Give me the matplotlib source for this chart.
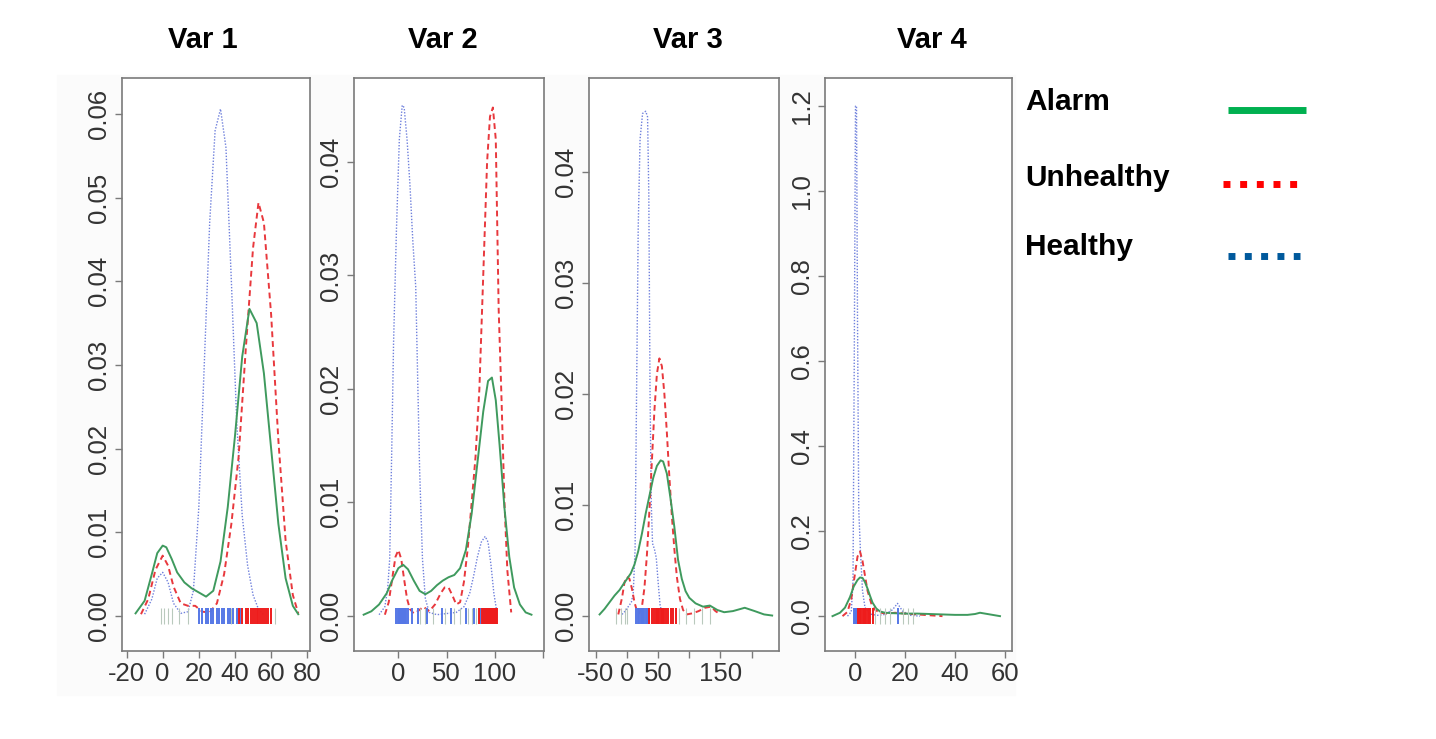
import matplotlib
matplotlib.use("Agg")
import matplotlib.pyplot as plt
from matplotlib.lines import Line2D
from matplotlib.patches import Rectangle

plt.rcParams['font.family'] = ['Liberation Sans', 'DejaVu Sans']

# ---- Var 1 density curves ----
v1_alarm_x = [-15, -10, -6, -3, 0, 2, 5, 8, 12, 16, 20, 24, 28, 32, 36, 40, 44, 48, 52, 56, 60, 64, 68, 72, 75]
v1_alarm_y = [0.0003, 0.0018, 0.0050, 0.0075, 0.0084, 0.0082, 0.0068, 0.0052, 0.0040, 0.0033, 0.0028, 0.0023,
              0.0030, 0.0065, 0.0130, 0.0215, 0.0310, 0.0367, 0.0350, 0.0290, 0.0200, 0.0110, 0.0045, 0.0012, 0.0002]
v1_unh_x = [-12, -8, -4, 0, 3, 6, 10, 14, 18, 22, 26, 30, 34, 38, 42, 46, 50, 53, 56, 60, 64, 68, 72, 75]
v1_unh_y = [0.0002, 0.0020, 0.0055, 0.0072, 0.0060, 0.0035, 0.0015, 0.0012, 0.0012, 0.0005, 0.0004, 0.0015,
            0.0050, 0.0110, 0.0190, 0.0320, 0.0440, 0.0494, 0.0470, 0.0360, 0.0210, 0.0090, 0.0025, 0.0003]
v1_hea_x = [-10, -6, -3, 0, 3, 6, 10, 14, 17, 20, 23, 26, 29, 32, 35, 38, 41, 44, 47, 50, 53, 56]
v1_hea_y = [0.0002, 0.0020, 0.0045, 0.0052, 0.0040, 0.0015, 0.0003, 0.0005, 0.0030, 0.0130, 0.0300, 0.0470,
            0.0580, 0.0606, 0.0560, 0.0400, 0.0230, 0.0120, 0.0060, 0.0025, 0.0008, 0.0001]
v1_rug_hea = [20, 22, 24, 25, 27, 28, 30, 31, 33, 34, 36, 37, 39, 41, 43]
v1_rug_unh = [42, 44, 46, 47, 49, 50, 51, 52, 53, 54, 55, 56, 57, 58, 60]
v1_rug_alarm = [-1, 1, 3, 5, 9, 14, 38, 62]

# ---- Var 2 ----
v2_alarm_x = [-36, -28, -20, -12, -6, 0, 5, 10, 16, 22, 28, 34, 40, 46, 52, 58, 64, 70, 76, 82, 88, 93, 97,
              101, 105, 110, 115, 120, 126, 132, 138]
v2_alarm_y = [0.0001, 0.0004, 0.0010, 0.0020, 0.0032, 0.0042, 0.0045, 0.0041, 0.0031, 0.0022, 0.0019, 0.0022,
              0.0027, 0.0031, 0.0034, 0.0036, 0.0042, 0.0058, 0.0090, 0.0135, 0.0180, 0.0207, 0.0210, 0.0190,
              0.0150, 0.0095, 0.0052, 0.0025, 0.0010, 0.0003, 0.0001]
v2_unh_x = [-14, -10, -6, -3, 0, 3, 6, 9, 12, 16, 20, 26, 32, 38, 44, 48, 52, 56, 60, 64, 68, 72, 76, 80, 84,
            88, 92, 95, 98, 101, 104, 107, 110, 113, 117]
v2_unh_y = [0.0001, 0.0012, 0.0035, 0.0052, 0.0058, 0.0050, 0.0032, 0.0015, 0.0006, 0.0002, 0.0004, 0.0008,
            0.0004, 0.0010, 0.0020, 0.0025, 0.0025, 0.0018, 0.0010, 0.0012, 0.0030, 0.0060, 0.0100, 0.0140,
            0.0200, 0.0300, 0.0400, 0.0440, 0.0448, 0.0420, 0.0270, 0.0190, 0.0100, 0.0040, 0.0003]
v2_hea_x = [-20, -14, -11, -9, -7, -5, -2, 1, 4, 6, 9, 12, 15, 18, 20, 22, 25, 28, 32, 40, 50, 60, 68, 74,
            78, 82, 86, 90, 93, 96, 99, 102]
v2_hea_y = [0.0001, 0.0008, 0.0025, 0.0050, 0.0140, 0.0240, 0.0340, 0.0420, 0.0450, 0.0448, 0.0420, 0.0380,
            0.0330, 0.0290, 0.0210, 0.0130, 0.0050, 0.0015, 0.0003, 0.0001, 0.0002, 0.0003, 0.0008, 0.0020,
            0.0035, 0.0052, 0.0065, 0.0070, 0.0065, 0.0045, 0.0020, 0.0004]
v2_rug_hea = [-2, 0, 1, 2, 3, 4, 5, 6, 7, 8, 10, 14, 20, 30, 45, 55, 70, 78, 85, 88, 90]
v2_rug_unh = [84, 87, 89, 91, 92, 93, 94, 95, 96, 97, 98, 99, 100, 101, 102]
v2_rug_alarm = [22, 28, 36, 48, 58, 64, 72, 76, 80]

# ---- Var 3 ----
v3_alarm_x = [-44, -36, -28, -20, -12, -5, 0, 6, 12, 18, 24, 30, 36, 42, 48, 54, 58, 64, 70, 76, 82, 88, 94,
              100, 110, 122, 133, 145, 156, 170, 189, 205, 220, 233]
v3_alarm_y = [0.0001, 0.0006, 0.0012, 0.0018, 0.0023, 0.0029, 0.0033, 0.0038, 0.0046, 0.0058, 0.0074, 0.0092,
              0.0108, 0.0124, 0.0135, 0.0140, 0.0139, 0.0128, 0.0105, 0.0080, 0.0050, 0.0033, 0.0022, 0.0016,
              0.0011, 0.0008, 0.0009, 0.0005, 0.0003, 0.0004, 0.0007, 0.0004, 0.0001, 0.0000]
v3_unh_x = [-14, -8, -4, 0, 4, 8, 12, 16, 20, 24, 28, 32, 36, 40, 44, 48, 52, 56, 60, 64, 68, 72, 76, 80, 85,
            90, 96, 105, 115, 125, 135, 142, 150]
v3_unh_y = [0.0001, 0.0016, 0.0030, 0.0035, 0.0033, 0.0024, 0.0012, 0.0004, 0.0002, 0.0008, 0.0025, 0.0055,
            0.0095, 0.0140, 0.0185, 0.0218, 0.0232, 0.0225, 0.0200, 0.0165, 0.0125, 0.0090, 0.0060, 0.0035,
            0.0015, 0.0005, 0.0001, 0.0002, 0.0004, 0.0007, 0.0008, 0.0004, 0.0001]
v3_hea_x = [-8, -3, 2, 7, 10, 13, 15, 18, 21, 25, 30, 33, 35, 37, 39, 41, 44, 47, 50, 53, 56]
v3_hea_y = [0.0001, 0.0004, 0.0008, 0.0012, 0.0020, 0.0060, 0.0180, 0.0350, 0.0430, 0.0453, 0.0455, 0.0450,
            0.0380, 0.0200, 0.0100, 0.0065, 0.0060, 0.0052, 0.0030, 0.0010, 0.0002]
v3_rug_hea = [15, 18, 20, 22, 24, 26, 28, 30, 32, 34, 36]
v3_rug_unh = [36, 40, 43, 46, 48, 50, 52, 54, 56, 58, 60, 63, 66, 70, 74, 78]
v3_rug_alarm = [-17, -10, -4, 0, 84, 95, 108, 120, 134]

# ---- Var 4 ----
v4_alarm_x = [-9, -6, -4, -2, -0.5, 1, 2, 3, 4, 5, 6, 7, 8.5, 10, 12, 15, 20, 25, 30, 35, 40, 45, 48, 50, 52,
              55, 58]
v4_alarm_y = [0.0, 0.008, 0.02, 0.045, 0.07, 0.085, 0.091, 0.09, 0.08, 0.065, 0.048, 0.032, 0.018, 0.011,
              0.008, 0.007, 0.006, 0.006, 0.005, 0.004, 0.003, 0.003, 0.005, 0.008, 0.006, 0.003, 0.0]
v4_unh_x = [-5, -3, -1.5, 0, 1, 2, 3, 4, 5, 6.5, 8, 10, 13, 16, 20, 25, 30, 35]
v4_unh_y = [0.0, 0.01, 0.04, 0.10, 0.14, 0.152, 0.13, 0.095, 0.06, 0.03, 0.015, 0.008, 0.006, 0.008, 0.006,
            0.004, 0.002, 0.0]
v4_hea_x = [-3, -1.5, -0.8, -0.3, 0.2, 0.6, 1.0, 1.5, 2.2, 3, 4, 6, 9, 12, 15, 17, 19, 22, 26]
v4_hea_y = [0.0, 0.01, 0.08, 0.6, 1.2, 1.2, 0.7, 0.25, 0.15, 0.06, 0.02, 0.005, 0.002, 0.004, 0.015, 0.03,
            0.012, 0.002, 0.0]
v4_rug_hea = [-0.5, 0, 0.3, 0.6, 1, 1.4, 2, 17]
v4_rug_unh = [1, 1.5, 2, 2.5, 3, 3.5, 4, 4.5, 5, 5.5, 6, 7]
v4_rug_alarm = [8, 10, 12, 14, 19, 21, 23]

titles = ["Var 1", "Var 2", "Var 3", "Var 4"]
legend_labels = ["Alarm", "Unhealthy", "Healthy"]

W, H = 1436, 739
fig = plt.figure(figsize=(W / 100, H / 100), dpi=100)

# very faint grey backdrop behind the R panels
fig.add_artist(Rectangle((57 / W, 1 - 695 / H), (1015 - 57) / W, (695 - 75) / H,
                         transform=fig.transFigure, color='#fbfbfb', zorder=0))

panels = [
    dict(box=(122, 310), xlim=(-22.5, 81.5), ylim=(-0.0042, 0.0643),
         xticks=[-20, 0, 20, 40, 60, 80], xlab=['-20', '0', '20', '40', '60', '80'],
         yticks=[0, 0.01, 0.02, 0.03, 0.04, 0.05, 0.06], yfmt='{:.2f}',
         alarm=(v1_alarm_x, v1_alarm_y), unh=(v1_unh_x, v1_unh_y), hea=(v1_hea_x, v1_hea_y),
         rugs=(v1_rug_alarm, v1_rug_hea, v1_rug_unh)),
    dict(box=(354, 544), xlim=(-46, 151), ylim=(-0.0031, 0.0474),
         xticks=[0, 50, 100, 150], xlab=['0', '50', '100', ''],
         yticks=[0, 0.01, 0.02, 0.03, 0.04], yfmt='{:.2f}',
         alarm=(v2_alarm_x, v2_alarm_y), unh=(v2_unh_x, v2_unh_y), hea=(v2_hea_x, v2_hea_y),
         rugs=(v2_rug_alarm, v2_rug_hea, v2_rug_unh)),
    dict(box=(589, 779), xlim=(-61, 244), ylim=(-0.0032, 0.0485),
         xticks=[-50, 0, 50, 100, 150, 200], xlab=['-50', '0', '50', '', '150', ''],
         yticks=[0, 0.01, 0.02, 0.03, 0.04], yfmt='{:.2f}',
         alarm=(v3_alarm_x, v3_alarm_y), unh=(v3_unh_x, v3_unh_y), hea=(v3_hea_x, v3_hea_y),
         rugs=(v3_rug_alarm, v3_rug_hea, v3_rug_unh)),
    dict(box=(825, 1012), xlim=(-12, 62.8), ylim=(-0.082, 1.266),
         xticks=[0, 20, 40, 60], xlab=['0', '20', '40', '60'],
         yticks=[0, 0.2, 0.4, 0.6, 0.8, 1.0, 1.2], yfmt='{:.1f}',
         alarm=(v4_alarm_x, v4_alarm_y), unh=(v4_unh_x, v4_unh_y), hea=(v4_hea_x, v4_hea_y),
         rugs=(v4_rug_alarm, v4_rug_hea, v4_rug_unh)),
]
title_cx = [203, 443, 688, 932]

top, bottom = 78, 651
frame_col = '#7a7a7a'
for i, p in enumerate(panels):
    l, r = p['box']
    ax = fig.add_axes([l / W, 1 - bottom / H, (r - l) / W, (bottom - top) / H])
    ax.set_facecolor('white')
    ax.set_zorder(1)
    ax.set_xlim(*p['xlim'])
    ax.set_ylim(*p['ylim'])

    ax.plot(*p['hea'], color='#6f80dc', lw=1.0, ls=(0, (1, 1.2)))
    ax.plot(*p['unh'], color='#e8383d', lw=1.4, ls=(0, (3, 2)))
    ax.plot(*p['alarm'], color='#3f9a5e', lw=1.4)

    rug_alarm, rug_hea, rug_unh = p['rugs']
    ax.plot(rug_alarm, [0] * len(rug_alarm), ls='none', marker='|', ms=12, mew=0.8, color='#b9c9bd')
    ax.plot(rug_hea, [0] * len(rug_hea), ls='none', marker='|', ms=12, mew=1.4, color='#5577e6')
    ax.plot(rug_unh, [0] * len(rug_unh), ls='none', marker='|', ms=12, mew=1.4, color='#ee1c1c')

    ax.set_xticks(p['xticks'])
    ax.set_xticklabels(p['xlab'])
    ax.set_yticks(p['yticks'])
    ax.set_yticklabels([p['yfmt'].format(v) for v in p['yticks']], rotation=90, va='center')
    ax.tick_params(direction='out', length=5, width=1, color=frame_col, labelsize=18.5,
                   labelcolor='#333333', pad=3)
    for s in ax.spines.values():
        s.set_color(frame_col)
        s.set_linewidth(1.2)

    fig.text(title_cx[i] / W, 1 - 40 / H, titles[i], fontsize=21, fontweight='bold',
             ha='center', va='center')

# legend on the right
leg_y = [102, 178, 247]
leg_line_y = [110, 184, 256]
leg_x = [(1228, 1306), (1223, 1306), (1228, 1300)]
leg_col = ['#00b050', '#ff0000', '#00599c']
leg_ls = ['-', (0, (1, 1.4)), (0, (1, 1.35))]
for lab, ty, ly, (x0, x1), c, ls in zip(legend_labels, leg_y, leg_line_y, leg_x, leg_col, leg_ls):
    fig.text(1025 / W, 1 - ty / H, lab, fontsize=21.5, fontweight='bold', ha='left', va='center')
    fig.add_artist(Line2D([x0 / W, x1 / W], [1 - ly / H, 1 - ly / H], transform=fig.transFigure,
                          color=c, lw=5, ls=ls, solid_capstyle='butt', dash_capstyle='butt'))

fig.savefig("out.png", dpi=100)
